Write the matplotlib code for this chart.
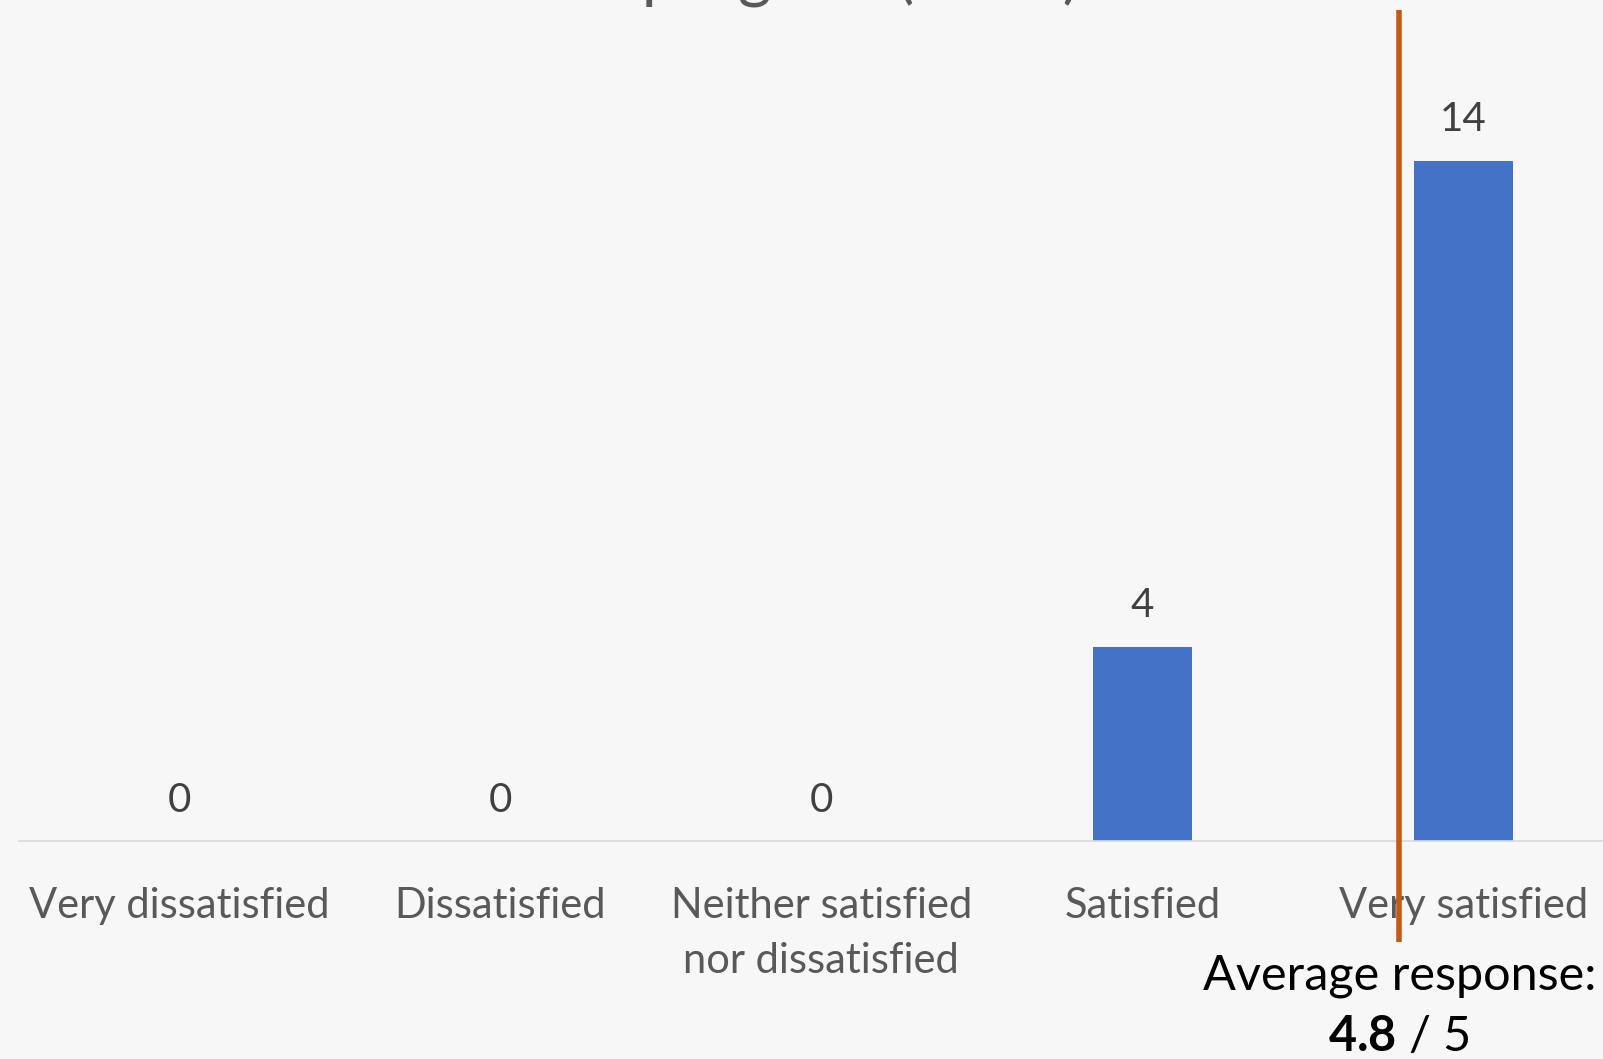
import matplotlib
matplotlib.use("Agg")
import matplotlib.pyplot as plt
from matplotlib.transforms import blended_transform_factory

# Survey responses
categories = ["Very dissatisfied", "Dissatisfied", "Neither satisfied\nnor dissatisfied",
              "Satisfied", "Very satisfied"]
counts = [0, 0, 0, 4, 14]
average_score = 4.8
scale_max = 5
title_text = "Satisfaction with the program (n=18)"

BG = "#f7f7f7"
BAR = "#4472c4"
AVG = "#c55a11"
FONT = "Lato"

plt.rcParams["mathtext.fontset"] = "custom"
plt.rcParams["mathtext.rm"] = "Lato"
plt.rcParams["mathtext.bf"] = "Lato:bold"

W, H, DPI = 1603, 1059, 100
fig = plt.figure(figsize=(W / DPI, H / DPI), dpi=DPI, facecolor=BG)

# plot area: categories extend slightly past the right edge of the canvas
ax = fig.add_axes([18.5 / W, 218 / H, 1605.5 / W, 841 / H])
ax.set_facecolor(BG)

x = list(range(len(categories)))
ax.bar(x, counts, width=0.31, color=BAR, zorder=2)
ax.set_xlim(-0.5, len(categories) - 0.5)
ax.set_ylim(0, 841 / 48.6)

for s in ["left", "right", "top"]:
    ax.spines[s].set_visible(False)
ax.spines["bottom"].set_color("#d9d9d9")
ax.spines["bottom"].set_linewidth(1.2)
ax.set_yticks([])
ax.set_xticks(x)
ax.set_xticklabels(categories, fontsize=30, color="#595959", family=FONT,
                   linespacing=1.55)
ax.tick_params(axis="x", length=0, pad=33)

# value labels above each bar
for xi, v in zip(x, counts):
    ax.annotate(f"{v}", (xi, v), xytext=(0, 41), textcoords="offset pixels",
                ha="center", va="center", fontsize=29, color="#404040", family=FONT)

# average marker on the 1..5 response scale
avg_x = average_score - 1
tr = blended_transform_factory(ax.transData, ax.transAxes)
ax.plot([avg_x, avg_x], [-0.12, 0.988], transform=tr, color=AVG, lw=4,
        solid_capstyle="butt", clip_on=False, zorder=3)
ax.text(avg_x, -0.177, "Average response:", transform=tr, ha="center",
        va="baseline", fontsize=35, color="black", family=FONT)
ax.text(avg_x, -0.2497, f"$\\mathbf{{{average_score}}}$ / {scale_max}", transform=tr,
        ha="center", va="baseline", fontsize=35, color="black", family=FONT)

# chart title, mostly above the visible canvas
fig.text(0.35, 1.004, title_text, ha="center", va="baseline", fontsize=46.5,
         color="#595959", family=FONT)

fig.savefig("out.png", dpi=DPI, facecolor=BG)
